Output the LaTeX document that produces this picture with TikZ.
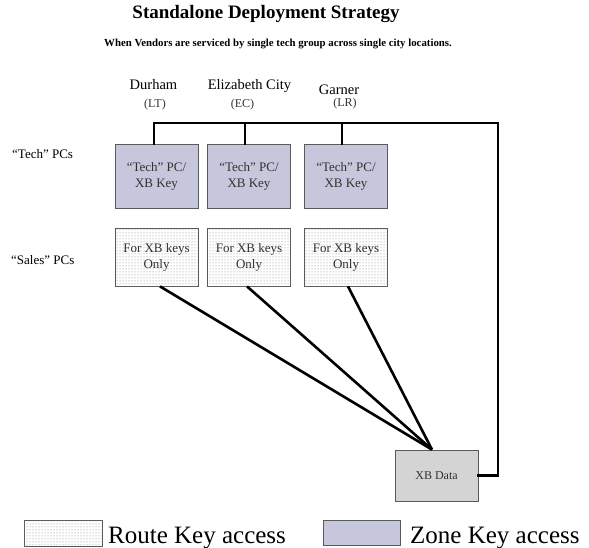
\documentclass[tikz,border=0pt]{standalone}
\usepackage{fontspec}
\setmainfont{Liberation Serif}
\usetikzlibrary{patterns}
\definecolor{zone}{RGB}{198,198,220}
\definecolor{xbgray}{RGB}{212,212,212}
\definecolor{edgegray}{RGB}{90,90,90}
\definecolor{txtgray}{RGB}{50,50,50}
\tikzset{
  techbox/.style={draw=edgegray, line width=0.8pt, fill=zone, minimum width=83pt, minimum height=64pt, inner sep=0pt, align=center, text=txtgray, font=\fontsize{13}{16}\selectfont},
  salesbox/.style={draw=edgegray, line width=0.8pt, fill=white, postaction={pattern=dots, pattern color=gray}, minimum width=83pt, minimum height=58pt, inner sep=0pt, align=center, text=txtgray, font=\fontsize{13}{16}\selectfont},
  databox/.style={draw=edgegray, line width=0.8pt, fill=xbgray, minimum width=83pt, minimum height=51pt, inner sep=0pt, text=txtgray, font=\fontsize{12}{14}\selectfont},
  city/.style={anchor=base, inner sep=0pt, font=\fontsize{14.5}{16}\selectfont},
  code/.style={anchor=base, inner sep=0pt, text=txtgray, font=\fontsize{12}{14}\selectfont},
  rowlabel/.style={anchor=base west, inner sep=0pt, font=\fontsize{13}{15}\selectfont},
  conn/.style={line width=2.6pt, line cap=rect},
  legtext/.style={anchor=base west, inner sep=0pt, font=\fontsize{25}{28}\selectfont}
}
\begin{document}
\begin{tikzpicture}[x=1pt,y=-1pt]
\useasboundingbox (0,0) rectangle (589,548);
% titles
\node[inner sep=0pt, font=\fontsize{19}{22}\selectfont\bfseries] (title) at (266,14) {Standalone Deployment Strategy};
\node[inner sep=0pt, font=\fontsize{10.8}{12}\selectfont\bfseries] (sub) at (278,44) {When Vendors are serviced by single tech group across single city locations.};
% city labels
\node[city] (durham) at (153.5,90) {Durham};
\node[code] (lt) at (155,108) {(LT)};
\node[city] (eliz) at (249.5,90) {Elizabeth City};
\node[code] (ec) at (242.5,108) {(EC)};
\node[city] (garner) at (339,95) {Garner};
\node[code] (lr) at (345,107) {(LR)};
% row labels
\node[rowlabel] (techlbl) at (12,159) {“Tech” PCs};
\node[rowlabel] (saleslbl) at (11,265) {“Sales” PCs};
% tech boxes
\node[techbox] (t1) at (156.5,176) {“Tech” PC/\\XB Key};
\node[techbox] (t2) at (249,176) {“Tech” PC/\\XB Key};
\node[techbox] (t3) at (346,176) {“Tech” PC/\\XB Key};
% sales boxes
\node[salesbox] (s1) at (156.5,257) {For XB keys\\Only};
\node[salesbox] (s2) at (249,257) {For XB keys\\Only};
\node[salesbox] (s3) at (346,257) {For XB keys\\Only};
% data box
\node[databox] (xb) at (436.5,475.5) {XB Data};
% connectors
\coordinate (busR) at (498,123);
\draw[conn] ([xshift=-2.5pt]t1.north) |- (busR) |- (xb.east);
\draw[conn] ([xshift=-4pt]t2.north) -- ([xshift=-4pt]t2.north |- busR);
\draw[conn] ([xshift=-4pt]t3.north) -- ([xshift=-4pt]t3.north |- busR);
\draw[conn, line cap=butt] ([xshift=3.5pt]s1.south) -- ([xshift=-4.5pt]xb.north);
\draw[conn, line cap=butt] ([xshift=-2pt]s2.south) -- ([xshift=-4.5pt]xb.north);
\draw[conn, line cap=butt] ([xshift=2pt]s3.south) -- ([xshift=-4.5pt]xb.north);
% legend
\node[draw=edgegray, line width=0.8pt, fill=white, postaction={pattern=dots, pattern color=gray}, minimum width=78pt, minimum height=26pt, inner sep=0pt] (legroute) at (63,533) {};
\node[legtext] (legroutetxt) at (108,543) {Route Key access};
\node[draw=edgegray, line width=0.8pt, fill=zone, minimum width=77pt, minimum height=25pt, inner sep=0pt] (legzone) at (361.5,532.5) {};
\node[legtext] (legzonetxt) at (410,543) {Zone Key access};
\end{tikzpicture}
\end{document}
